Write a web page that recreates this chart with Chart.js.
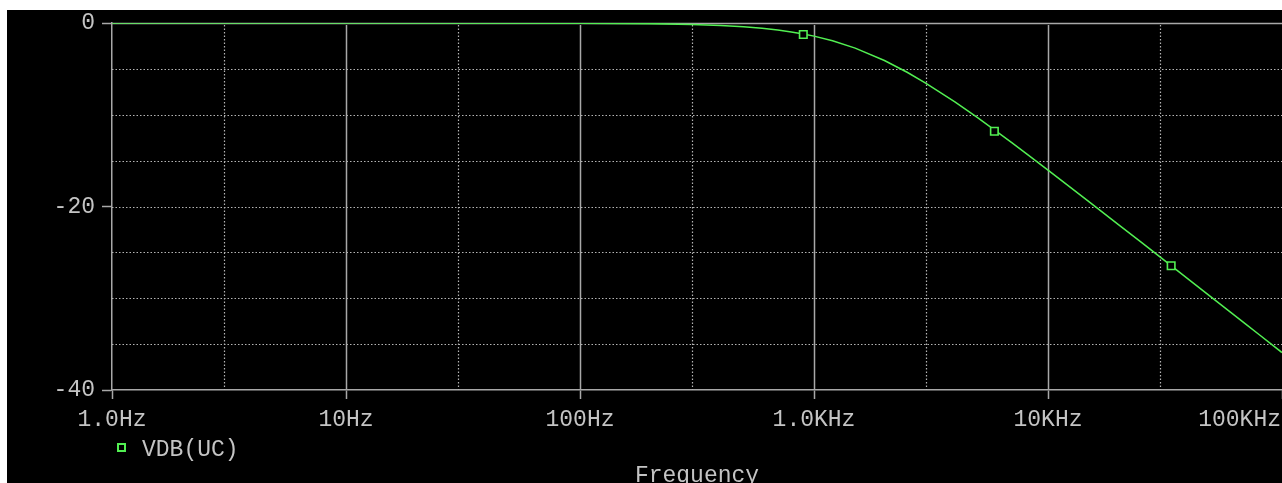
<!DOCTYPE html>
<html>
<head>
<meta charset="utf-8">
<script src="https://cdn.jsdelivr.net/npm/chart.js@4.4.0/dist/chart.umd.min.js"></script>
<style>
  html, body { margin: 0; padding: 0; background: #fff; }
  #wrap { position: absolute; left: 7px; top: 10px; width: 1275px; height: 473px; background: #000; }
</style>
</head>
<body>
<div id="wrap"><canvas id="bode"></canvas></div>
<script>
// trace: frequency (Hz) and VDB(UC) (dB)
var freqs = [1, 10, 100, 200, 300, 400, 500, 600, 700, 800, 900, 1000, 1200, 1500, 2000, 2500, 3000,
             4000, 5000, 6000, 7000, 8000, 10000, 12000, 15000, 20000, 25000, 30000, 40000, 50000,
             60000, 70000, 80000, 100000];
var vdb = [0, 0, -0.02, -0.07, -0.15, -0.26, -0.40, -0.56, -0.76, -0.97, -1.20, -1.43, -1.94, -2.74, -4.09, -5.37, -6.55,
           -8.60, -10.32, -11.78, -13.04, -14.15, -16.03, -17.58, -19.49, -21.97, -23.89, -25.47, -27.97, -29.90,
           -31.48, -32.82, -33.98, -35.92];

// the square markers on the trace
var markerFreqs = [900, 5900, 33600];
var markerVdb = [-1.25, -11.8, -26.45];

var decadeTicks = [1, 10, 100, 1000, 10000, 100000];
var decadeLabels = ['1.0Hz', '10Hz', '100Hz', '1.0KHz', '10KHz', '100KHz'];
var minorFreqGrid = [3, 30, 300, 3000, 30000];
var dbTicks = [-40, -20, 0];
var dbGrid = [-5, -10, -15, -20, -25, -30, -35];
var seriesName = 'VDB(UC)';
var axisTitle = 'Frequency';

var GREEN = '#52ef52';
var GRID = '#a8a8a8';
var DOTS = '#b4b4b4';
var TEXT = '#c4c4c4';
var FONT = '23px "Liberation Mono", "Courier New", monospace';

var probeGrid = {
  id: 'probeGrid',
  beforeDatasetsDraw: function (chart) {
    var ctx = chart.ctx, a = chart.chartArea;
    var xs = chart.scales.x, ys = chart.scales.y;
    ctx.save();
    ctx.lineWidth = 1.2;
    ctx.strokeStyle = DOTS;

    // dotted lines
    ctx.setLineDash([1.5, 2]);
    minorFreqGrid.forEach(function (f) {
      var x = Math.round(xs.getPixelForValue(f)) + 0.5;
      ctx.beginPath(); ctx.moveTo(x, a.top + 2); ctx.lineTo(x, a.bottom); ctx.stroke();
    });
    dbGrid.forEach(function (d) {
      var y = Math.round(ys.getPixelForValue(d)) + 0.5;
      ctx.beginPath(); ctx.moveTo(a.left, y); ctx.lineTo(a.right, y); ctx.stroke();
    });

    // solid decade lines + top line
    ctx.setLineDash([]);
    ctx.strokeStyle = GRID;
    ctx.lineWidth = 1.5;
    decadeTicks.slice(1, -1).forEach(function (f) {
      var x = Math.round(xs.getPixelForValue(f)) + 0.5;
      ctx.beginPath(); ctx.moveTo(x, a.top + 2); ctx.lineTo(x, a.bottom); ctx.stroke();
    });
    var yTop = Math.round(ys.getPixelForValue(0)) + 0.5;
    ctx.beginPath(); ctx.moveTo(a.left, yTop); ctx.lineTo(a.right, yTop); ctx.stroke();
    ctx.restore();
  },
  afterDraw: function (chart) {
    var ctx = chart.ctx, a = chart.chartArea;
    var xs = chart.scales.x;
    var w = chart.width;
    ctx.save();
    ctx.font = FONT;
    ctx.fillStyle = TEXT;
    ctx.textBaseline = 'middle';
    ctx.textAlign = 'left';

    // frequency labels, the last one pulled back inside the frame
    decadeTicks.forEach(function (f, i) {
      var txt = decadeLabels[i];
      var tw = ctx.measureText(txt).width;
      var x = xs.getPixelForValue(f) - tw / 2;
      if (x + tw > w - 1) x = w - 1 - tw;
      ctx.fillText(txt, x, xs.top + 30);
    });

    // legend entry
    ctx.strokeStyle = GREEN;
    ctx.lineWidth = 2;
    ctx.strokeRect(111, 434, 7, 7);
    ctx.fillText(seriesName, 135, 440);

    // axis title
    ctx.textAlign = 'center';
    ctx.textBaseline = 'alphabetic';
    ctx.fillText(axisTitle, (a.left + a.right) / 2, 472);
    ctx.restore();
  }
};

var traceData = freqs.map(function (f, i) { return { x: f, y: vdb[i] }; });
var markerData = markerFreqs.map(function (f, i) { return { x: f, y: markerVdb[i] }; });

new Chart(document.getElementById('bode').getContext('2d'), {
  type: 'line',
  data: {
    datasets: [
      {
        label: seriesName,
        data: traceData,
        borderColor: GREEN,
        borderWidth: 1.5,
        pointRadius: 0,
        tension: 0,
        fill: false,
        order: 1
      },
      {
        label: seriesName + ' markers',
        data: markerData,
        showLine: false,
        pointStyle: 'rect',
        pointRadius: 5.3,
        pointBorderWidth: 1.6,
        pointBorderColor: GREEN,
        pointBackgroundColor: '#000',
        order: 0
      }
    ]
  },
  options: {
    responsive: true,
    maintainAspectRatio: false,
    animation: false,
    events: [],
    layout: { autoPadding: false, padding: { top: 13, right: 0, left: 0, bottom: 0 } },
    plugins: { legend: { display: false }, tooltip: { enabled: false } },
    scales: {
      x: {
        type: 'logarithmic',
        min: 1,
        max: 100000,
        afterBuildTicks: function (s) { s.ticks = decadeTicks.map(function (v) { return { value: v }; }); },
        afterFit: function (s) { s.height = 93; s.paddingLeft = 0; s.paddingRight = 0; },
        ticks: { display: false },
        grid: { drawOnChartArea: false, drawTicks: true, tickLength: 9, tickColor: GRID, tickWidth: 1.5 },
        border: { color: GRID, width: 1.5 }
      },
      y: {
        type: 'linear',
        min: -40,
        max: 0,
        afterBuildTicks: function (s) { s.ticks = dbTicks.map(function (v) { return { value: v }; }); },
        afterFit: function (s) { s.width = 105; s.paddingTop = 0; s.paddingBottom = 0; },
        ticks: { color: TEXT, font: { family: '"Liberation Mono", "Courier New", monospace', size: 23 }, padding: 7,
                 callback: function (v) { return String(v); } },
        grid: { drawOnChartArea: false, drawTicks: true, tickLength: 10, tickColor: GRID, tickWidth: 1.5 },
        border: { color: GRID, width: 1.5 }
      }
    }
  },
  plugins: [probeGrid]
});
</script>
</body>
</html>
